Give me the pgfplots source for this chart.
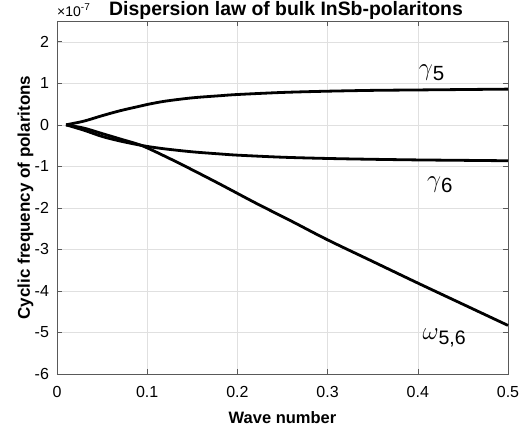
\documentclass[border=0pt]{standalone}
\usepackage{pgfplots}
\pgfplotsset{compat=1.18}
\usepackage{fontspec}
\setmainfont{Liberation Sans}
\begin{document}
\begin{tikzpicture}[x=1pt,y=1pt]
\path[use as bounding box] (-57,-58) rectangle (472,374);
\begin{axis}[
  at={(0,0)}, anchor=south west,
  width=451pt, height=353pt, scale only axis,
  xmin=0, xmax=0.5, ymin=-6, ymax=2.5,
  xtick={0,0.1,0.2,0.3,0.4,0.5},
  xticklabels={0,0.1,0.2,0.3,0.4,0.5},
  ytick={-6,-5,-4,-3,-2,-1,0,1,2},
  yticklabels={-6,-5,-4,-3,-2,-1,0,1,2},
  tick align=inside, major tick length=5pt,
  tick style={black!65, line width=0.6pt},
  axis line style={black!65, line width=0.8pt},
  xmajorgrids, ymajorgrids,
  major grid style={black!12, line width=0.5pt},
  ticklabel style={font=\fontsize{16}{16}\selectfont},
  xticklabel style={yshift=-9pt},
  yticklabel style={xshift=-4.5pt},
  xlabel={Wave number},
  ylabel={Cyclic frequency of polaritons},
  xlabel style={font=\bfseries\fontsize{16.5}{16.5}\selectfont, at={(axis description cs:0.5,-0.1397)}, anchor=base},
  ylabel style={font=\bfseries\fontsize{17}{17}\selectfont, at={(axis description cs:-0.0599,0.5)}, anchor=base},
  clip=false,
]
\addplot[black, line width=2.8pt, smooth] coordinates {
(0.01,0) (0.03,0.09) (0.05,0.22) (0.07,0.34) (0.09,0.44) (0.1,0.49) (0.12,0.57) (0.15,0.65) (0.18,0.70) (0.2,0.73) (0.25,0.78) (0.3,0.81) (0.35,0.83) (0.4,0.84) (0.45,0.85) (0.5,0.86)};
\addplot[black, line width=2.8pt, smooth] coordinates {
(0.01,0) (0.03,-0.13) (0.05,-0.28) (0.07,-0.39) (0.09,-0.48) (0.1,-0.52) (0.12,-0.58) (0.15,-0.65) (0.18,-0.70) (0.2,-0.73) (0.25,-0.78) (0.3,-0.81) (0.35,-0.83) (0.4,-0.845) (0.45,-0.855) (0.5,-0.865)};
\addplot[black, line width=2.8pt, smooth] coordinates {
(0.01,0) (0.03,-0.08) (0.05,-0.21) (0.07,-0.34) (0.094,-0.5) (0.12,-0.76) (0.146,-1.04) (0.18,-1.42) (0.22,-1.88) (0.26,-2.32) (0.3,-2.77) (0.35,-3.29) (0.4,-3.81) (0.45,-4.32) (0.5,-4.83)};
\node[anchor=base west, inner sep=0pt] at (axis cs:0.401,1.19) {\fontsize{25}{25}\selectfont$\gamma$\fontsize{20.5}{20.5}\selectfont\raisebox{-5pt}{5}};
\node[anchor=base west, inner sep=0pt] at (axis cs:0.41,-1.51) {\fontsize{25}{25}\selectfont$\gamma$\fontsize{20.5}{20.5}\selectfont\raisebox{-5pt}{6}};
\node[anchor=base west, inner sep=0pt] at (axis cs:0.405,-5.18) {\fontsize{27}{27}\selectfont$\omega$\fontsize{19.5}{19.5}\selectfont\raisebox{-5pt}{5,6}};
\end{axis}
\node[anchor=base, inner sep=0pt, font=\bfseries\fontsize{19.4}{19.4}\selectfont] at (229,358) {Dispersion law of bulk InSb-polaritons};
\node[anchor=base west, inner sep=0pt, font=\fontsize{14}{14}\selectfont] at (0,357.3) {×10\raisebox{6.5pt}{\fontsize{10}{10}\selectfont -7}};
\end{tikzpicture}
\end{document}
